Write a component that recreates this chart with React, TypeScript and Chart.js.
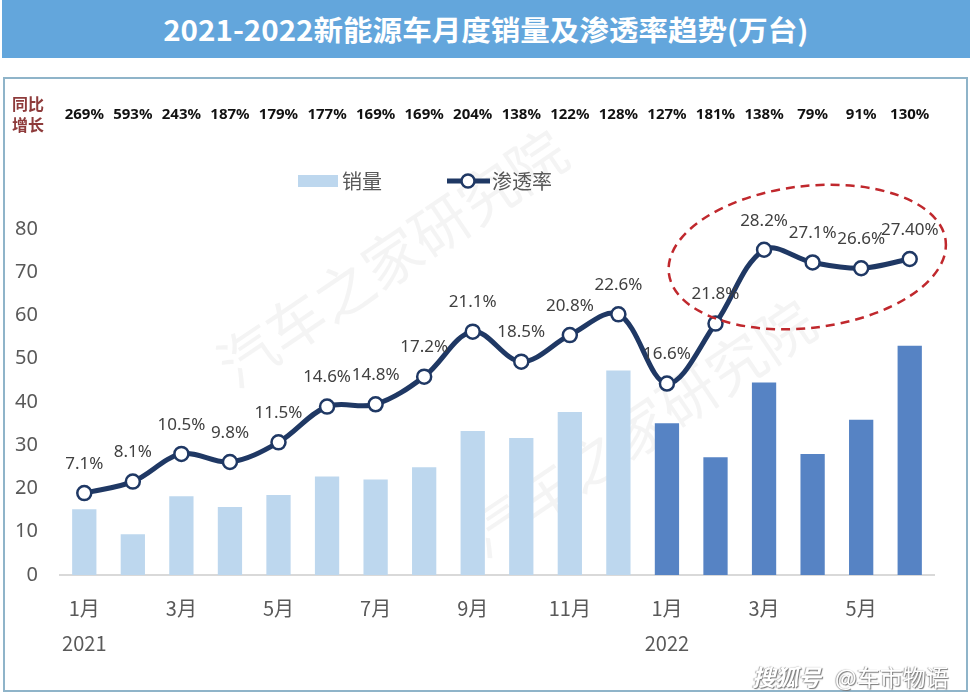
import React, { useEffect, useRef } from 'react';
import { Chart, registerables } from 'chart.js';

Chart.register(...registerables);

// ---- data ----
const months = ['1月', '2月', '3月', '4月', '5月', '6月', '7月', '8月', '9月', '10月', '11月', '12月', '1月', '2月', '3月', '4月', '5月', '6月'];
const categoryYears = ['2021', '2021', '2021', '2021', '2021', '2021', '2021', '2021', '2021', '2021', '2021', '2021', '2022', '2022', '2022', '2022', '2022', '2022'];
const sales = [15.2, 9.4, 18.2, 15.7, 18.5, 22.8, 22.1, 24.9, 33.3, 31.7, 37.7, 47.3, 35.1, 27.2, 44.5, 28.0, 35.9, 53.0];
const rates = [7.1, 8.1, 10.5, 9.8, 11.5, 14.6, 14.8, 17.2, 21.1, 18.5, 20.8, 22.6, 16.6, 21.8, 28.2, 27.1, 26.6, 27.4];
const rateLabels = ['7.1%', '8.1%', '10.5%', '9.8%', '11.5%', '14.6%', '14.8%', '17.2%', '21.1%', '18.5%', '20.8%', '22.6%', '16.6%', '21.8%', '28.2%', '27.1%', '26.6%', '27.40%'];
const yoy = ['269%', '593%', '243%', '187%', '179%', '177%', '169%', '169%', '204%', '138%', '122%', '128%', '127%', '181%', '138%', '79%', '91%', '130%'];
const salesAxisMax = 80;
const salesAxisStep = 10;
const rateAxisMax = 30;

const LIGHT = '#bdd7ee';
const DARK = '#5683c4';
const NAVY = '#1f3864';
const FONT = "'Noto Sans', 'Noto Sans CJK SC', sans-serif";
const CJK = "'Noto Sans CJK SC', 'Noto Sans', sans-serif";

const decorPlugin = {
  id: 'decor',
  beforeDatasetsDraw(chart: any) {
    const ctx = chart.ctx;
    ctx.save();
    ctx.fillStyle = 'rgba(120,120,120,0.08)';
    ctx.font = `58px ${CJK}`;
    ctx.textAlign = 'center';
    ctx.textBaseline = 'middle';
    const marks = [[392, 258], [640, 428]];
    for (const [cx, cy] of marks) {
      ctx.save();
      ctx.translate(cx, cy);
      ctx.rotate(-34 * Math.PI / 180);
      ctx.fillText('汽车之家研究院', 0, 0);
      ctx.restore();
    }
    ctx.restore();
  },
  afterDatasetsDraw(chart: any) {
    const ctx = chart.ctx;
    const x = chart.scales.x;
    const y2 = chart.scales.y2;
    // data labels
    const meta = chart.getDatasetMeta(1);
    ctx.save();
    ctx.font = `17px ${FONT}`;
    ctx.fillStyle = '#404040';
    ctx.textAlign = 'center';
    ctx.textBaseline = 'middle';
    meta.data.forEach((el: any, i: number) => {
      ctx.fillText(rateLabels[i], el.x, el.y - 29);
    });
    ctx.restore();

    // dashed ellipse highlight
    const step = x.getPixelForValue(1) - x.getPixelForValue(0);
    const cx = x.getPixelForValue(14.89);
    const cy = y2.getPixelForValue(27.57);
    const ry = Math.abs(y2.getPixelForValue(0) - y2.getPixelForValue(6.15));
    ctx.save();
    ctx.strokeStyle = '#c0282d';
    ctx.lineWidth = 2.5;
    ctx.setLineDash([9, 6]);
    ctx.beginPath();
    ctx.ellipse(cx, cy, step * 2.87, ry, -6.7 * Math.PI / 180, 0, Math.PI * 2);
    ctx.stroke();
    ctx.restore();
  },
  afterDraw(chart: any) {
    const ctx = chart.ctx;
    const x = chart.scales.x;
    ctx.save();
    // YoY row
    ctx.font = `bold 15px ${FONT}`;
    ctx.fillStyle = '#111';
    ctx.textAlign = 'center';
    ctx.textBaseline = 'middle';
    yoy.forEach((t, i) => ctx.fillText(t, x.getPixelForValue(i), 115));
    // 同比增长 label
    ctx.font = `bold 16px ${CJK}`;
    ctx.fillStyle = '#8e3b3b';
    ctx.textAlign = 'left';
    ctx.fillText('同比', 12, 104);
    ctx.fillText('增长', 12, 125);
    // legend
    ctx.fillStyle = LIGHT;
    ctx.fillRect(298, 175, 40, 12);
    ctx.font = `20px ${CJK}`;
    ctx.fillStyle = '#595959';
    ctx.fillText('销量', 342, 181);
    ctx.strokeStyle = NAVY;
    ctx.lineWidth = 5;
    ctx.beginPath();
    ctx.moveTo(447, 181);
    ctx.lineTo(490, 181);
    ctx.stroke();
    ctx.beginPath();
    ctx.arc(468, 181, 6.5, 0, Math.PI * 2);
    ctx.fillStyle = '#fff';
    ctx.fill();
    ctx.lineWidth = 2.5;
    ctx.stroke();
    ctx.fillStyle = '#595959';
    ctx.fillText('渗透率', 492, 181);
    ctx.restore();
  },
};

export default function App() {
  const ref = useRef<HTMLCanvasElement>(null);
  useEffect(() => {
    if (!ref.current) return;
    const chart = new Chart(ref.current, {
      type: 'bar',
      data: {
        labels: months,
        datasets: [
          {
            type: 'bar',
            label: '销量',
            data: sales,
            backgroundColor: categoryYears.map((y) => (y === '2021' ? LIGHT : DARK)),
            barPercentage: 0.5,
            categoryPercentage: 1,
            yAxisID: 'y',
            order: 1,
          },
          {
            type: 'line',
            label: '渗透率',
            data: rates,
            borderColor: NAVY,
            borderWidth: 5,
            tension: 0.35,
            pointRadius: 7,
            pointBorderWidth: 2.5,
            pointBackgroundColor: '#fff',
            pointBorderColor: NAVY,
            yAxisID: 'y2',
            order: 0,
            clip: false,
          } as any,
        ],
      },
      options: {
        responsive: false,
        animation: false,
        devicePixelRatio: 1,
        layout: { padding: { top: 229, right: 37, bottom: 0, left: 0 } },
        plugins: { legend: { display: false }, tooltip: { enabled: false }, title: { display: false } },
        scales: {
          x: {
            grid: { display: false, drawTicks: false },
            border: { display: true, color: '#d9d9d9', width: 2 },
            ticks: {
              autoSkip: false,
              maxRotation: 0,
              padding: 16,
              color: '#595959',
              font: { family: CJK, size: 20, lineHeight: 1.75 },
              callback: (_v: any, i: number) => {
                if (i % 2 !== 0) return '';
                const first = i === 0 || categoryYears[i] !== categoryYears[i - 1];
                return first ? [months[i], categoryYears[i]] : months[i];
              },
            },
            afterFit: (s: any) => { s.height = 120; },
          },
          y: {
            min: 0,
            max: salesAxisMax,
            grid: { display: false, drawTicks: false },
            border: { display: false },
            ticks: { stepSize: salesAxisStep, padding: 22, color: '#595959', font: { family: FONT, size: 20 } },
            afterFit: (s: any) => { s.width = 60; },
          },
          y2: {
            min: 0,
            max: rateAxisMax,
            display: false,
            position: 'right',
          },
        },
      },
      plugins: [decorPlugin],
    });
    return () => chart.destroy();
  }, []);

  return (
    <div style={{ position: 'absolute', left: 0, top: 0, width: 971, height: 695, background: '#fff', overflow: 'hidden' }}>
      <div style={{ position: 'absolute', left: 2, top: 0, width: 968, height: 58, background: '#63a6dc', color: '#fff', fontFamily: CJK, fontWeight: 'bold', fontSize: 28, lineHeight: '58px', textAlign: 'center' }}>
        <span style={{ display: 'inline-block', transform: 'scaleX(1.055)' }}>2021-2022新能源车月度销量及渗透率趋势(万台)</span>
      </div>
      <div style={{ position: 'absolute', left: 3, top: 77, width: 965, height: 615, boxSizing: 'border-box', border: '2px solid #8fb4c9' }} />
      <canvas ref={ref} width={971} height={695} style={{ position: 'absolute', left: 0, top: 0, width: 971, height: 695 }} />
      <div style={{ position: 'absolute', left: 752, top: 659, fontFamily: CJK, fontSize: 23, color: '#fff', textShadow: '1px 1px 1px #777, -1px 0 1px #aaa', whiteSpace: 'nowrap' }}>
        <span style={{ fontStyle: 'italic', fontWeight: 'bold' }}>搜狐号</span>
        <span style={{ marginLeft: 14 }}>@车市物语</span>
      </div>
    </div>
  );
}
